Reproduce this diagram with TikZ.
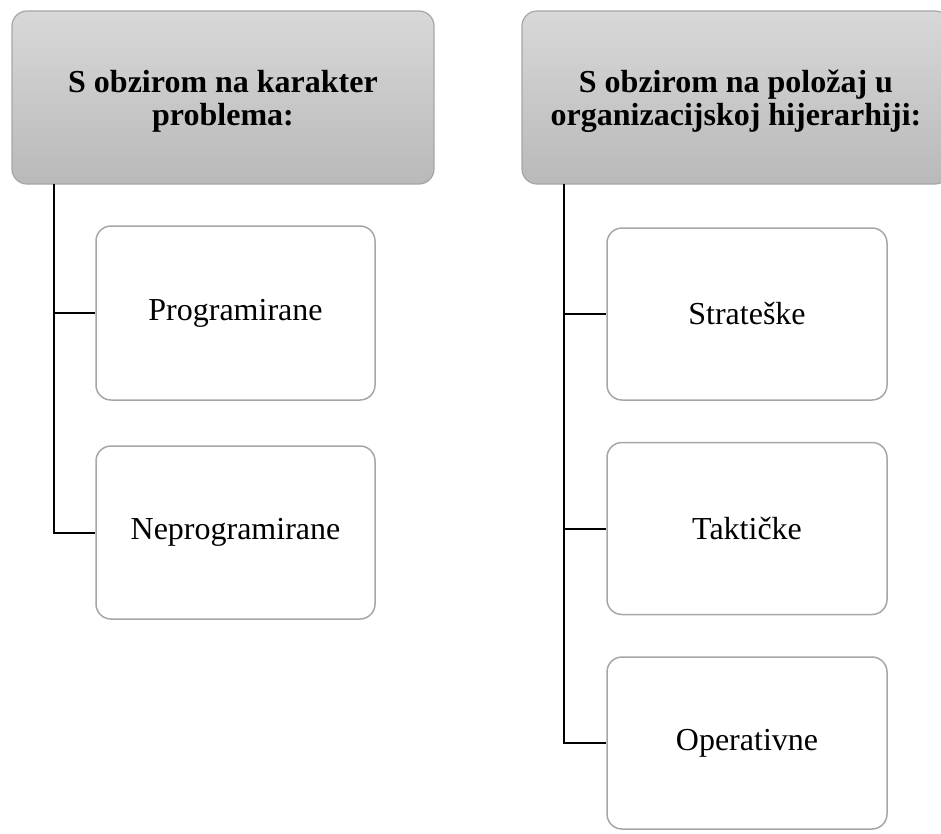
\documentclass[tikz,border=0pt]{standalone}
\usepackage{fontspec}
\setmainfont{Liberation Serif}
\begin{document}
\begin{tikzpicture}[x=1pt,y=-1pt,
  headbox/.style={rectangle, rounded corners=15pt, draw={rgb,255:red,166;green,166;blue,166}, line width=1.2pt,
    top color={rgb,255:red,216;green,216;blue,216}, bottom color={rgb,255:red,185;green,185;blue,185},
    minimum height=173pt, inner sep=0pt, align=center,
    font=\fontsize{32pt}{33pt}\selectfont\bfseries},
  childbox/.style={rectangle, rounded corners=15pt, draw={rgb,255:red,166;green,166;blue,166}, line width=1.5pt,
    fill=white, minimum width=279pt, minimum height=172pt, inner sep=0pt, align=center,
    font=\fontsize{32pt}{33pt}\selectfont},
  headtext/.style={inner sep=0pt, align=center, font=\fontsize{32pt}{33pt}\selectfont\bfseries},
  conn/.style={draw=black, line width=2pt}]
\useasboundingbox (0,0) rectangle (941,833);
\clip (0,0) rectangle (941,833);
% left column
\node[headbox, minimum width=422pt] (lh) at (223,97.5) {};
\node[headtext] (lht) at (223,101) {S obzirom na karakter\\problema:};
\node[childbox, minimum height=174pt] (p) at (235.5,313) {Programirane};
\node[childbox, minimum height=173pt] (np) at (235.5,532.5) {Neprogramirane};
\coordinate (tl) at (54,184);
\draw[conn] (tl) |- (p.west);
\draw[conn] (tl) |- (np.west);
% right column
\node[headbox, minimum width=428pt] (rh) at (736,97.5) {};
\node[headtext] (rht) at (736,101) {S obzirom na položaj u\\organizacijskoj hijerarhiji:};
\node[childbox, minimum width=280pt] (s) at (747,314) {Strateške};
\node[childbox, minimum width=280pt] (t) at (747,528.5) {Taktičke};
\node[childbox, minimum width=280pt] (o) at (747,743) {Operativne};
\coordinate (tr) at (564,184);
\draw[conn] (tr) |- (s.west);
\draw[conn] (tr) |- (t.west);
\draw[conn] (tr) |- (o.west);
\end{tikzpicture}
\end{document}
